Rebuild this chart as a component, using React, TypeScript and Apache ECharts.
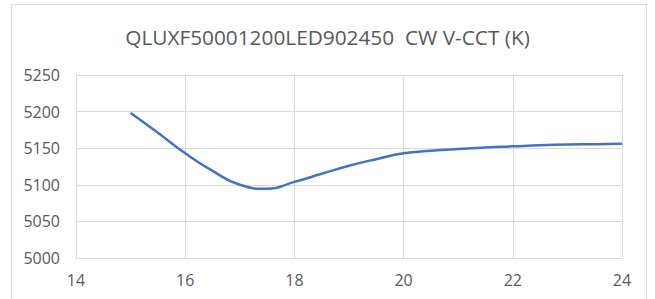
import React, { useEffect, useRef } from "react";
import * as echarts from "echarts";

const titleText = "QLUXF50001200LED902450  CW V-CCT (K)";
const xValues = [15, 15.5, 16, 16.5, 17, 17.5, 18, 18.5, 19, 19.5, 20, 20.5, 21, 21.5, 22, 22.5, 23, 23.5, 24];
const yValues = [5198, 5171, 5143, 5119, 5100, 5094.5, 5104, 5115, 5126, 5135, 5143, 5146.5, 5149, 5151, 5152.5, 5154, 5155, 5155.5, 5156];
const xTicks = [14, 16, 18, 20, 22, 24];
const yTicks = [5000, 5050, 5100, 5150, 5200, 5250];

export default function App() {
  const ref = useRef<HTMLDivElement>(null);
  useEffect(() => {
    document.body.style.margin = "0";
    const chart = echarts.init(ref.current!, null, { renderer: "svg" });
    const textColor = "#595959";
    const gridColor = "#d9d9d9";
    chart.setOption({
      animation: false,
      backgroundColor: "#ffffff",
      title: {
        text: titleText,
        left: "center",
        top: 21,
        textStyle: {
          fontFamily: "Open Sans",
          fontSize: 20.8,
          fontWeight: "normal",
          color: textColor,
        },
      },
      graphic: [
        {
          type: "rect",
          shape: { x: 11.5, y: 4.5, width: 635, height: 300 },
          style: { fill: "none", stroke: gridColor, lineWidth: 1 },
          silent: true,
        },
      ],
      grid: { left: 76, right: 33, top: 75, bottom: 41 },
      xAxis: {
        type: "value",
        min: xTicks[0],
        max: xTicks[xTicks.length - 1],
        interval: 2,
        axisLine: { show: true, lineStyle: { color: gridColor } },
        axisTick: { show: false },
        splitLine: { show: true, lineStyle: { color: gridColor } },
        axisLabel: {
          color: textColor,
          fontFamily: "Open Sans",
          fontSize: 16,
          margin: 14,
          formatter: (v: number) => String(v),
        },
      },
      yAxis: {
        type: "value",
        min: yTicks[0],
        max: yTicks[yTicks.length - 1],
        interval: 50,
        axisLine: { show: true, lineStyle: { color: gridColor } },
        axisTick: { show: false },
        splitLine: { show: true, lineStyle: { color: gridColor } },
        axisLabel: {
          color: textColor,
          fontFamily: "Open Sans",
          fontSize: 16,
          margin: 16,
          formatter: (v: number) => String(v),
        },
      },
      series: [
        {
          type: "line",
          data: xValues.map((x, i) => [x, yValues[i]]),
          smooth: 0.5,
          showSymbol: false,
          lineStyle: { color: "#4472C4", width: 2.5 },
        },
      ],
    });
    return () => chart.dispose();
  }, []);
  return (
    <div
      ref={ref}
      style={{ position: "fixed", left: 0, top: 0, width: 655, height: 299 }}
    />
  );
}
